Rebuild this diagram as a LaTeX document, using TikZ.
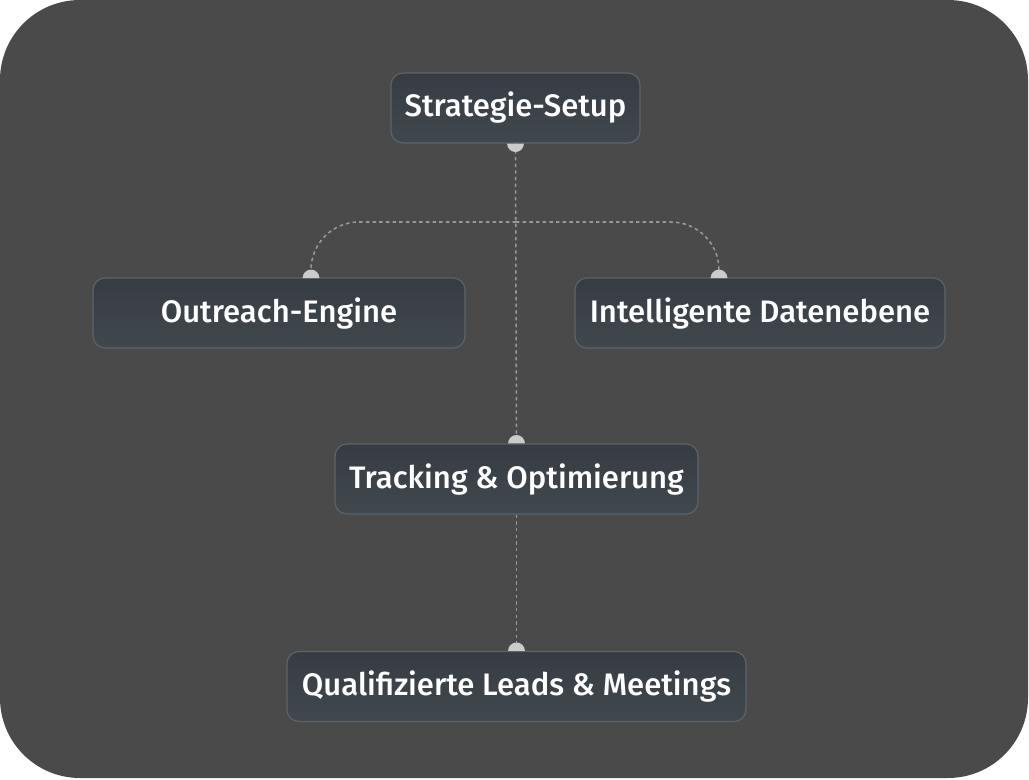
\documentclass[tikz,border=0pt]{standalone}
\usepackage{fontspec}
\setmainfont{Fira Sans}[UprightFont=* Medium]
\usetikzlibrary{calc}
\definecolor{bgdark}{HTML}{4A4A4A}
\definecolor{boxtop}{HTML}{373C43}
\definecolor{boxbot}{HTML}{40484E}
\definecolor{boxline}{HTML}{5C6469}
\definecolor{conncol}{HTML}{999999}
\definecolor{handlecol}{HTML}{CBCBCB}
\tikzset{
  flowbox/.style={draw=boxline, line width=0.9pt, rounded corners=9pt,
    top color=boxtop, bottom color=boxbot, text=white,
    minimum height=52.5pt, inner sep=0pt,
    font=\fontsize{23.3pt}{27pt}\selectfont},
  conn/.style={draw=conncol, line width=1.15pt, dash pattern=on 2.6pt off 2.4pt},
  handle/.style={fill=handlecol},
}
\begin{document}
\begin{tikzpicture}[x=0.75pt,y=-0.75pt]
\useasboundingbox (0,0) rectangle (1029,779);
\fill[white] (0,0) rectangle (1029,779);
\fill[bgdark, rounded corners=60pt] (0,0) rectangle (1028,778);

\node[flowbox, minimum width=186.75pt] (s) at (515.5,108) {Strategie-Setup};
\node[flowbox, minimum width=279pt] (o) at (279,313) {Outreach-Engine};
\node[flowbox, minimum width=277.5pt] (d) at (760,313) {Intelligente Datenebene};
\node[flowbox, minimum width=272.25pt] (t) at (516.5,479) {Tracking \& Optimierung};
\node[flowbox, minimum width=344.25pt] (q) at (516.5,686.5) {Qualifizierte Leads \& Meetings};

\coordinate (j) at (516,222);
\coordinate (oin) at (311,278);
\coordinate (din) at (719,278);
\draw[conn] (s.south) -- (t.north);
\draw[conn, rounded corners=36pt] (j) -| (oin);
\draw[conn, rounded corners=36pt] (j) -| (din);
\draw[conn] (t.south) -- (q.north);

\fill[handle] ($(s.south)+(-6.3pt,0)$) arc[start angle=180, end angle=360, radius=6.3pt] -- cycle;
\fill[handle] ($(oin)+(-6.3pt,0)$) arc[start angle=180, end angle=0, radius=6.3pt] -- cycle;
\fill[handle] ($(din)+(-6.3pt,0)$) arc[start angle=180, end angle=0, radius=6.3pt] -- cycle;
\fill[handle] ($(t.north)+(-6.3pt,0)$) arc[start angle=180, end angle=0, radius=6.3pt] -- cycle;
\fill[handle] ($(q.north)+(-6.3pt,0)$) arc[start angle=180, end angle=0, radius=6.3pt] -- cycle;
\end{tikzpicture}
\end{document}
